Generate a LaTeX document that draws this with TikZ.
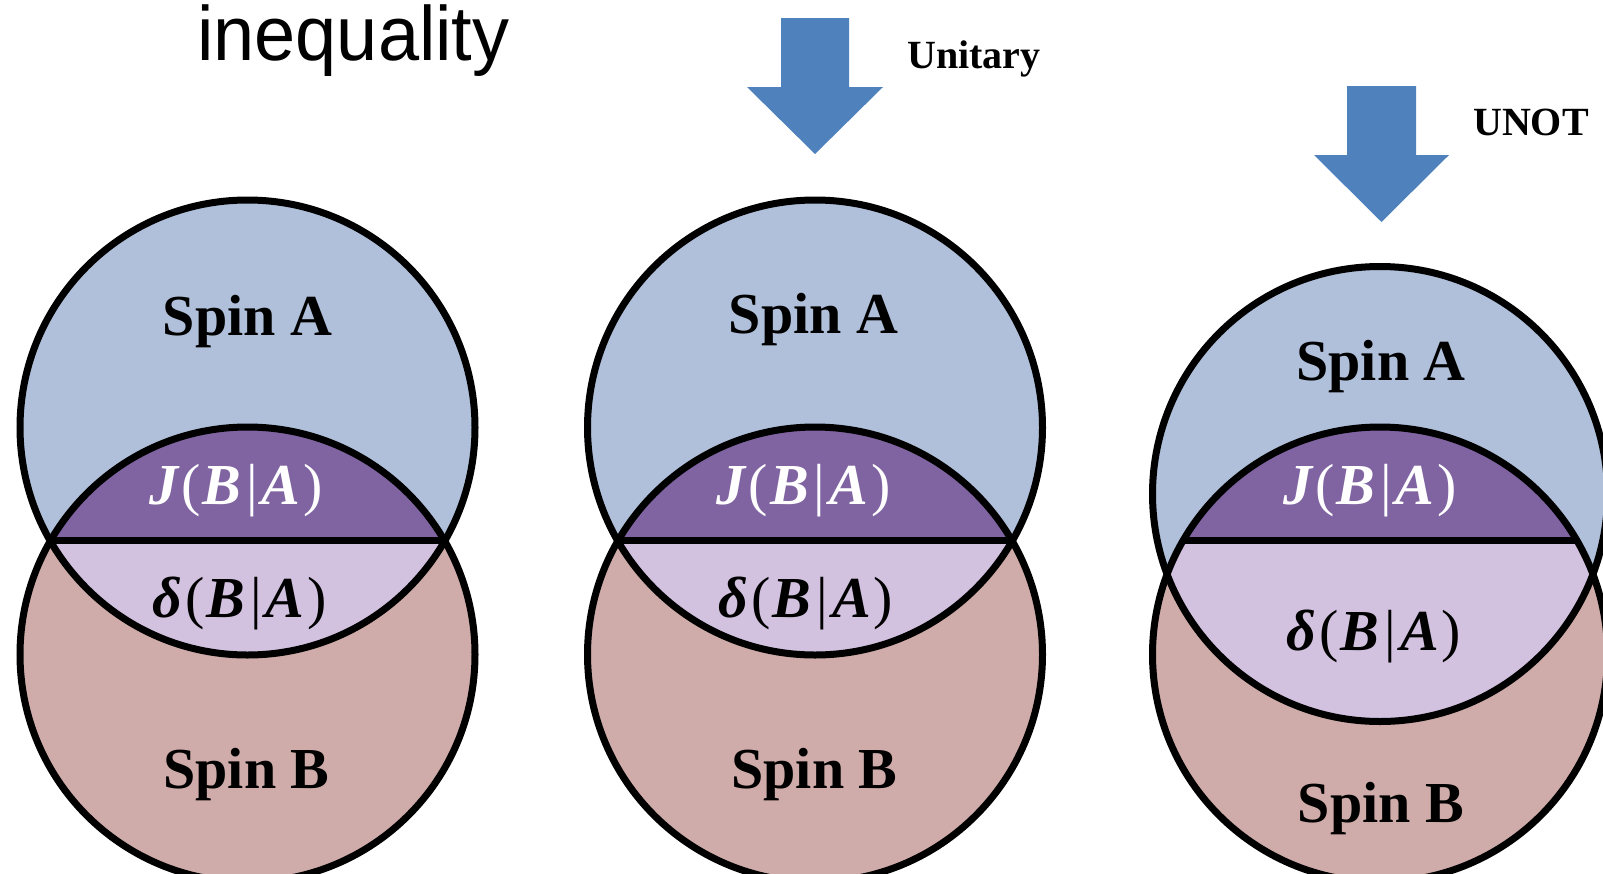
\documentclass[tikz,border=0pt]{standalone}
\usepackage{fontspec}
\setmainfont{Liberation Serif}
\newfontfamily\headsans[FakeStretch=0.96]{Liberation Sans}

\definecolor{spinAfill}{RGB}{176,192,218}
\definecolor{spinBfill}{RGB}{207,172,169}
\definecolor{corrfill}{RGB}{128,100,162}
\definecolor{discfill}{RGB}{210,193,223}
\definecolor{arrowblue}{RGB}{79,129,189}

\tikzset{
  outline/.style={draw=black, line width=7pt},
  spinlabel/.style={font=\fontsize{58}{60}\selectfont\bfseries, anchor=base, inner sep=0pt},
  mathlabel/.style={font=\fontsize{58}{62}\selectfont, anchor=base, inner sep=0pt},
  oplabel/.style={font=\fontsize{40}{44}\selectfont\bfseries, anchor=base west, inner sep=0pt},
  blockarrow/.style={fill=arrowblue}
}

% bold italic variable inside an upright formula
\newcommand\bv[1]{{\bfseries\itshape #1}}
\newcommand\condinfo[1]{\bv{#1}\kern3pt(\kern2pt\bv{B}\kern5pt|\kern4pt\bv{A}\kern3pt)}

\newcommand\vennR{227.5pt}
% #1 centre x, #2 centre y of spin A, #3 centre y of spin B
\newcommand\spinpair[3]{%
  \fill[spinAfill] (#1,#2) circle[radius=\vennR];
  \fill[spinBfill] (#1,#3) circle[radius=\vennR];
  \begin{scope}
    \clip (#1,#2) circle[radius=\vennR];
    \fill[discfill] (#1,#3) circle[radius=\vennR];
    \clip (#1,#3) circle[radius=\vennR];
    \fill[corrfill] (#1-300,0) rectangle (#1+300,540);
    \draw[line width=7pt] (#1-300,540) -- (#1+300,540);
  \end{scope}
  \draw[outline] (#1,#2) circle[radius=\vennR];
  \draw[outline] (#1,#3) circle[radius=\vennR];
}

\begin{document}
\begin{tikzpicture}[x=1pt, y=-1pt]
  \clip (0,0) rectangle (1603,873);

  % heading
  \node[font=\headsans\fontsize{77}{80}\selectfont, anchor=base west, inner sep=0pt]
    (title) at (197,60) {inequality};

  % the three spin pairs
  \spinpair{247.5}{427.5}{654.5}
  \spinpair{815}{427.5}{654.5}
  \spinpair{1380}{494}{654.5}

  % operation arrows
  \fill[blockarrow] (781,18) -- (849,18) -- (849,87) -- (883,87) -- (815,154)
    -- (747,87) -- (781,87) -- cycle;
  \fill[blockarrow] (1347,86) -- (1416,86) -- (1416,155) -- (1449,155) -- (1381.5,222)
    -- (1314,155) -- (1347,155) -- cycle;
  \node[oplabel] (unitary) at (907,68) {Unitary};
  \node[oplabel] (unot) at (1473,135) {UNOT};

  % labels, left pair
  \node[spinlabel] (spinA1) at (247.5,335) {Spin A};
  \node[spinlabel] (spinB1) at (246.5,788) {Spin B};
  \node[mathlabel, text=white] (J1) at (236,504) {\condinfo{J}};
  \node[mathlabel] (d1) at (239.5,617) {\condinfo{δ}};

  % labels, middle pair
  \node[spinlabel] (spinA2) at (813.5,333) {Spin A};
  \node[spinlabel] (spinB2) at (814.5,788) {Spin B};
  \node[mathlabel, text=white] (J2) at (803.5,504) {\condinfo{J}};
  \node[mathlabel] (d2) at (806,617) {\condinfo{δ}};

  % labels, right pair
  \node[spinlabel] (spinA3) at (1381,380) {Spin A};
  \node[spinlabel] (spinB3) at (1381,822) {Spin B};
  \node[mathlabel, text=white] (J3) at (1370,504) {\condinfo{J}};
  \node[mathlabel] (d3) at (1374,650) {\condinfo{δ}};
\end{tikzpicture}
\end{document}
